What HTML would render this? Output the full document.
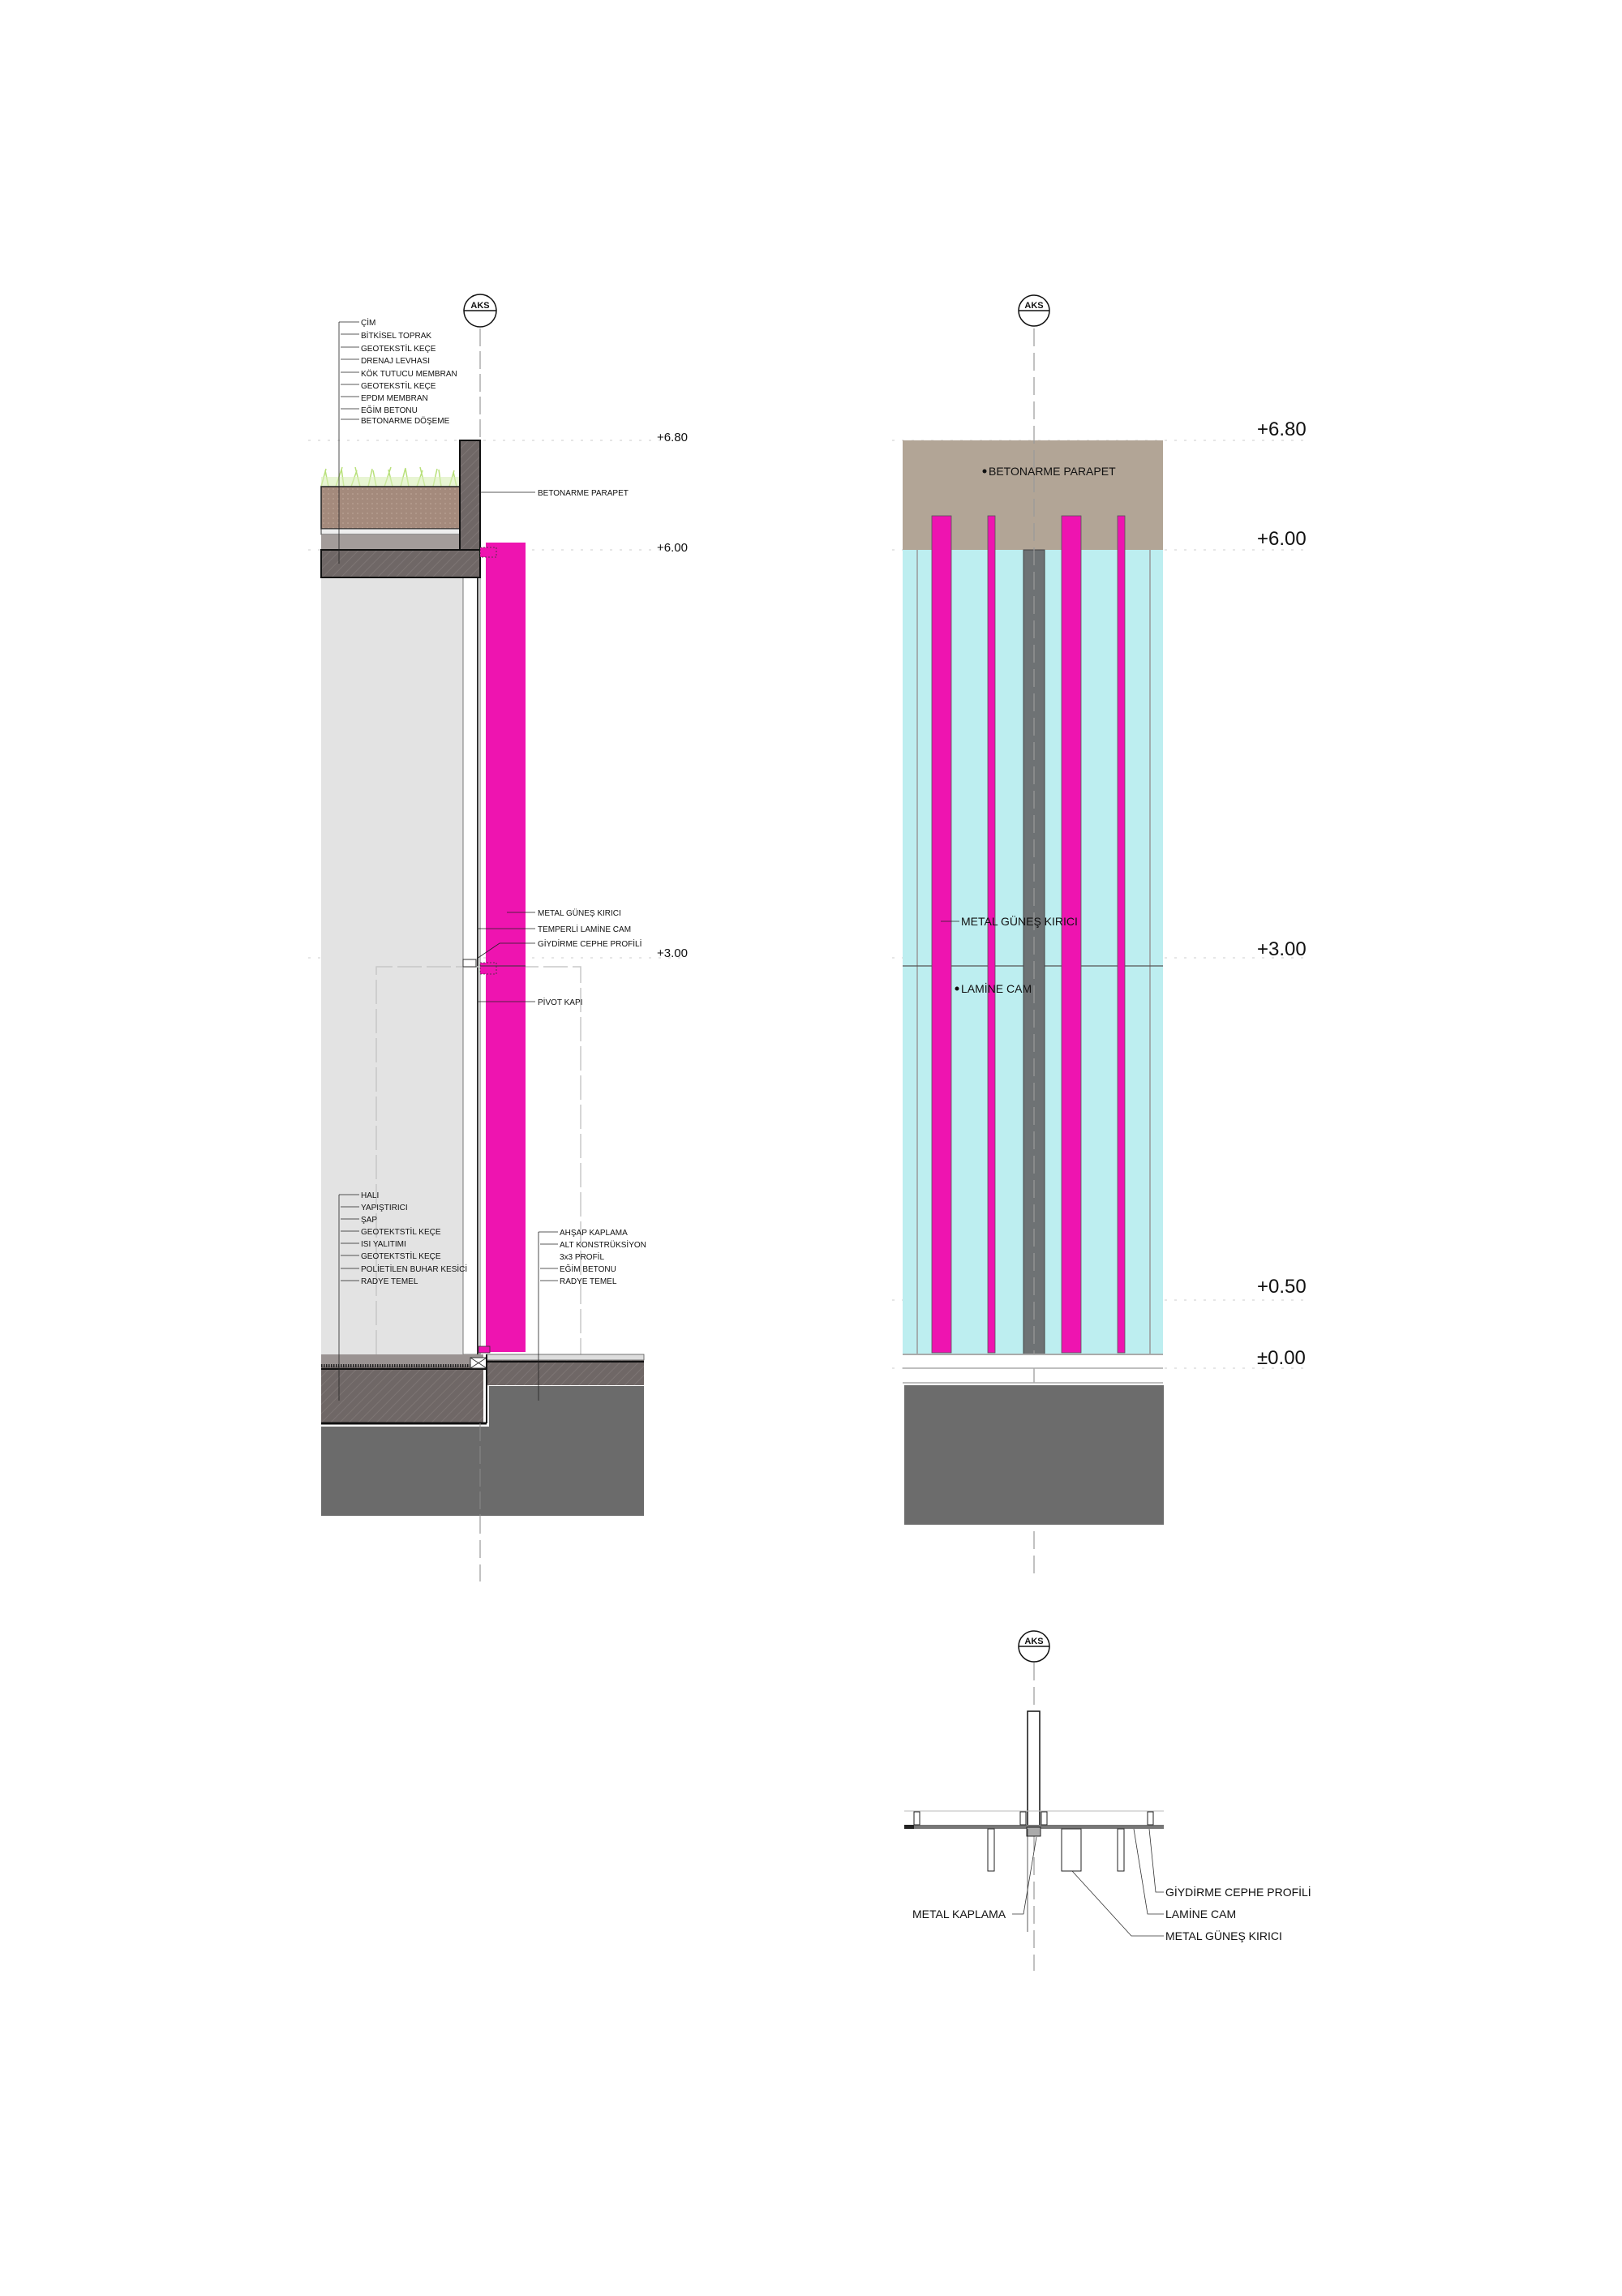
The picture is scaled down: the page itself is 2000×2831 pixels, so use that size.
<!DOCTYPE html>
<html><head><meta charset="utf-8"><style>
html,body{margin:0;padding:0;background:#fff}
svg{display:block}
text{font-family:"Liberation Sans",sans-serif;fill:#111}
.s{font-size:10px}
.l{font-size:24px}
.m{font-size:14px}
</style></head><body>
<svg width="2000" height="2831" viewBox="0 0 2000 2831" xmlns="http://www.w3.org/2000/svg">
<defs>
<pattern id="hat" width="8" height="8" patternUnits="userSpaceOnUse" patternTransform="rotate(45)">
<rect width="8" height="8" fill="#6f6766"/><line x1="0" y1="0" x2="0" y2="8" stroke="#7d7574" stroke-width="2"/></pattern>
<pattern id="soil" width="6" height="6" patternUnits="userSpaceOnUse"><rect width="6" height="6" fill="#a48a7c"/><circle cx="3" cy="3" r="1" fill="#b59c8e"/></pattern>
</defs>

<g stroke="#ccc" stroke-width="1" stroke-dasharray="3,9">
<line x1="380" y1="543" x2="845" y2="543"/><line x1="380" y1="678" x2="845" y2="678"/><line x1="380" y1="1181" x2="845" y2="1181"/>
<line x1="1100" y1="543" x2="1610" y2="543"/><line x1="1100" y1="678" x2="1610" y2="678"/><line x1="1100" y1="1181" x2="1610" y2="1181"/>
<line x1="1100" y1="1603" x2="1610" y2="1603"/><line x1="1100" y1="1687" x2="1610" y2="1687"/>
</g>
<rect x="396" y="712" width="175" height="958" fill="#e3e3e3"/>
<rect x="571" y="712" width="21" height="958" fill="#fff" stroke="#777" stroke-width="1"/>
<line x1="589" y1="712" x2="589" y2="1670" stroke="#333" stroke-width="2"/>
<path d="M464 1670 V1192 H716 V1670" fill="none" stroke="#c8c8c8" stroke-width="1.5" stroke-dasharray="30,6"/>
<g stroke="#b8e07a" stroke-width="1.5" fill="none">
<path d="M396 600 l6 -22 M405 600 l-4 -20 M414 600 l8 -24 M424 600 l-3 -22 M433 600 l7 -20 M444 600 l-6 -24 M454 600 l5 -22 M464 600 l-4 -20 M474 600 l8 -24 M484 600 l-5 -21 M494 600 l6 -23 M504 600 l-4 -22 M514 600 l7 -20 M524 600 l-6 -24 M534 600 l5 -22 M544 600 l-3 -21 M554 600 l6 -20 M563 600 l-4 -18"/>
</g>
<rect x="396" y="588" width="170" height="12" fill="#d8eeb5" opacity="0.6"/>
<rect x="396" y="600" width="171" height="52" fill="url(#soil)" stroke="#222" stroke-width="1.5"/>
<rect x="396" y="652" width="171" height="7" fill="#eee" stroke="#333" stroke-width="1"/>
<rect x="396" y="659" width="171" height="19" fill="#a39c9a"/>
<rect x="396" y="678" width="196" height="34" fill="url(#hat)" stroke="#111" stroke-width="2"/>
<rect x="567" y="543" width="25" height="135" fill="url(#hat)" stroke="#111" stroke-width="2"/>
<rect x="599" y="669" width="49" height="998" fill="#ee14b0"/>
<rect x="592" y="675" width="20" height="12" fill="#ee14b0" stroke="#333" stroke-width="0.8" stroke-dasharray="2,2"/>
<rect x="592" y="1187" width="20" height="14" fill="#ee14b0" stroke="#333" stroke-width="0.8" stroke-dasharray="2,2"/>
<line x1="592" y1="1191" x2="648" y2="1191" stroke="#333" stroke-width="1"/>
<rect x="571" y="1183" width="16" height="9" fill="#fff" stroke="#333"/>
<rect x="590" y="1660" width="14" height="8" fill="#ee14b0" stroke="#333" stroke-width="0.8"/>
<rect x="396" y="1670" width="200" height="85" fill="url(#hat)"/>
<rect x="396" y="1670" width="200" height="15" fill="#9a9392"/>
<line x1="396" y1="1684" x2="600" y2="1684" stroke="#222" stroke-width="4" stroke-dasharray="1.5,1.5"/>
<line x1="396" y1="1688" x2="600" y2="1688" stroke="#111" stroke-width="2"/>
<line x1="396" y1="1755" x2="600" y2="1755" stroke="#111" stroke-width="3"/>
<rect x="580" y="1674" width="20" height="13" fill="#fff" stroke="#333"/>
<path d="M580 1674 L600 1687 M600 1674 L580 1687" stroke="#333"/>
<rect x="600" y="1670" width="194" height="38" fill="url(#hat)"/>
<rect x="600" y="1670" width="194" height="7" fill="#ddd" stroke="#555" stroke-width="0.8"/>
<line x1="600" y1="1679" x2="794" y2="1679" stroke="#111" stroke-width="2"/>
<line x1="600" y1="1670" x2="600" y2="1755" stroke="#111" stroke-width="2"/>
<rect x="396" y="1759" width="398" height="110" fill="#6b6b6b"/>
<rect x="603" y="1709" width="191" height="60" fill="#6b6b6b"/>
<line x1="592" y1="405" x2="592" y2="540" stroke="#999" stroke-width="1.2" stroke-dasharray="22,6"/>
<line x1="592" y1="1869" x2="592" y2="1950" stroke="#999" stroke-width="1.2" stroke-dasharray="22,8"/>
<line x1="592" y1="1755" x2="592" y2="1869" stroke="#888" stroke-width="1" stroke-dasharray="22,6"/>
<circle cx="592" cy="383" r="20" fill="#fff" stroke="#111" stroke-width="1.5"/>
<line x1="572" y1="383" x2="612" y2="383" stroke="#111" stroke-width="1.5"/>
<text x="592" y="380" font-size="11" font-weight="bold" text-anchor="middle">AKS</text>
<g stroke="#222" stroke-width="0.8" fill="none">
<path d="M418 397 H443 M418 397 V695"/>
<line x1="420" y1="412" x2="443" y2="412"/><line x1="420" y1="428" x2="443" y2="428"/><line x1="420" y1="443" x2="443" y2="443"/>
<line x1="420" y1="459" x2="443" y2="459"/><line x1="420" y1="474" x2="443" y2="474"/><line x1="420" y1="489" x2="443" y2="489"/>
<line x1="420" y1="504" x2="443" y2="504"/><line x1="420" y1="517" x2="443" y2="517"/>
<line x1="592" y1="607" x2="660" y2="607"/>
</g>
<g class="s">
<text x="445" y="401">ÇİM</text><text x="445" y="417">BİTKİSEL TOPRAK</text><text x="445" y="433">GEOTEKSTİL KEÇE</text>
<text x="445" y="448">DRENAJ LEVHASI</text><text x="445" y="464">KÖK TUTUCU MEMBRAN</text><text x="445" y="479">GEOTEKSTİL KEÇE</text>
<text x="445" y="494">EPDM MEMBRAN</text><text x="445" y="509">EĞİM BETONU</text><text x="445" y="522">BETONARME DÖŞEME</text>
<text x="663" y="611">BETONARME PARAPET</text>
</g>
<g stroke="#222" stroke-width="0.8" fill="none">
<line x1="625" y1="1125" x2="660" y2="1125"/><line x1="590" y1="1145" x2="660" y2="1145"/>
<path d="M588 1182 L616 1163 H660"/><line x1="590" y1="1235" x2="660" y2="1235"/>
</g>
<g class="s">
<text x="663" y="1129">METAL GÜNEŞ KIRICI</text><text x="663" y="1149">TEMPERLİ LAMİNE CAM</text>
<text x="663" y="1167">GİYDİRME CEPHE PROFİLİ</text><text x="663" y="1239">PİVOT KAPI</text>
</g>
<text x="810" y="544" style="font-size:15px">+6.80</text>
<text x="810" y="680" style="font-size:15px">+6.00</text>
<text x="810" y="1180" style="font-size:15px">+3.00</text>
<g stroke="#222" stroke-width="0.8" fill="none">
<path d="M418 1473 H443 M418 1473 V1727"/>
<line x1="420" y1="1488" x2="443" y2="1488"/><line x1="420" y1="1503" x2="443" y2="1503"/><line x1="420" y1="1518" x2="443" y2="1518"/>
<line x1="420" y1="1533" x2="443" y2="1533"/><line x1="420" y1="1548" x2="443" y2="1548"/><line x1="420" y1="1564" x2="443" y2="1564"/>
<line x1="420" y1="1579" x2="443" y2="1579"/>
<path d="M664 1519 H688 M664 1519 V1727"/>
<line x1="666" y1="1534" x2="688" y2="1534"/><line x1="666" y1="1564" x2="688" y2="1564"/><line x1="666" y1="1579" x2="688" y2="1579"/>
</g>
<g class="s">
<text x="445" y="1477">HALI</text><text x="445" y="1492">YAPIŞTIRICI</text><text x="445" y="1507">ŞAP</text>
<text x="445" y="1522">GEOTEKTSTİL KEÇE</text><text x="445" y="1537">ISI YALITIMI</text><text x="445" y="1552">GEOTEKTSTİL KEÇE</text>
<text x="445" y="1568">POLİETİLEN BUHAR KESİCİ</text><text x="445" y="1583">RADYE TEMEL</text>
<text x="690" y="1523">AHŞAP KAPLAMA</text><text x="690" y="1538">ALT KONSTRÜKSİYON</text><text x="690" y="1553">3x3 PROFİL</text>
<text x="690" y="1568">EĞİM BETONU</text><text x="690" y="1583">RADYE TEMEL</text>
</g>

<rect x="1113" y="543" width="321" height="135" fill="#b2a596"/>
<rect x="1113" y="678" width="321" height="992" fill="#bdeef0"/>
<line x1="1131" y1="678" x2="1131" y2="1670" stroke="#999" stroke-width="1.5"/>
<line x1="1418" y1="678" x2="1418" y2="1670" stroke="#999" stroke-width="1.5"/>
<line x1="1113" y1="1191" x2="1434" y2="1191" stroke="#555" stroke-width="1.2"/>
<rect x="1262" y="678" width="26" height="992" fill="#6e7274" stroke="#444" stroke-width="1"/>
<g fill="#ee14b0" stroke="#555" stroke-width="0.8">
<rect x="1149" y="636" width="24" height="1032"/><rect x="1218" y="636" width="9" height="1032"/>
<rect x="1309" y="636" width="24" height="1032"/><rect x="1378" y="636" width="9" height="1032"/>
</g>
<line x1="1113" y1="1670" x2="1434" y2="1670" stroke="#aaa" stroke-width="2"/>
<line x1="1113" y1="1687" x2="1434" y2="1687" stroke="#aaa" stroke-width="1.5"/>
<line x1="1113" y1="1705" x2="1434" y2="1705" stroke="#aaa" stroke-width="1.5"/>
<line x1="1275" y1="1687" x2="1275" y2="1705" stroke="#aaa" stroke-width="1.5"/>
<rect x="1115" y="1708" width="320" height="172" fill="#6c6c6c"/>
<line x1="1275" y1="405" x2="1275" y2="1670" stroke="#999" stroke-width="1.2" stroke-dasharray="22,8"/>
<line x1="1275" y1="1888" x2="1275" y2="1945" stroke="#999" stroke-width="1.2" stroke-dasharray="22,8"/>
<circle cx="1275" cy="383" r="19" fill="#fff" stroke="#111" stroke-width="1.5"/>
<line x1="1256" y1="383" x2="1294" y2="383" stroke="#111" stroke-width="1.5"/>
<text x="1275" y="380" font-size="11" font-weight="bold" text-anchor="middle">AKS</text>
<circle cx="1214" cy="581" r="2.5" fill="#111"/>
<text class="m" x="1219" y="586">BETONARME PARAPET</text>
<line x1="1160" y1="1136" x2="1183" y2="1136" stroke="#222" stroke-width="0.8"/>
<text class="m" x="1185" y="1141">METAL GÜNEŞ KIRICI</text>
<circle cx="1180" cy="1219" r="2.5" fill="#111"/>
<text class="m" x="1185" y="1224">LAMİNE CAM</text>
<text class="l" x="1550" y="537">+6.80</text>
<text class="l" x="1550" y="672">+6.00</text>
<text class="l" x="1550" y="1178">+3.00</text>
<text class="l" x="1550" y="1594">+0.50</text>
<text class="l" x="1550" y="1682">±0.00</text>

<line x1="1275" y1="2050" x2="1275" y2="2430" stroke="#999" stroke-width="1.2" stroke-dasharray="22,8"/>
<circle cx="1275" cy="2030" r="19" fill="#fff" stroke="#111" stroke-width="1.5"/>
<line x1="1256" y1="2030" x2="1294" y2="2030" stroke="#111" stroke-width="1.5"/>
<text x="1275" y="2027" font-size="11" font-weight="bold" text-anchor="middle">AKS</text>
<rect x="1267" y="2110" width="15" height="143" fill="#fff" stroke="#111" stroke-width="1.5"/>
<line x1="1115" y1="2233" x2="1435" y2="2233" stroke="#bbb" stroke-width="1"/>
<rect x="1115" y="2250" width="320" height="5" fill="#777"/>
<rect x="1115" y="2250" width="12" height="5" fill="#222"/>
<g fill="#fff" stroke="#222" stroke-width="1">
<rect x="1127" y="2234" width="7" height="16"/><rect x="1258" y="2234" width="7" height="16"/>
<rect x="1284" y="2234" width="7" height="16"/><rect x="1415" y="2234" width="7" height="16"/>
<rect x="1218" y="2255" width="8" height="52"/><rect x="1309" y="2255" width="24" height="52"/>
<rect x="1378" y="2255" width="8" height="52"/>
</g>
<rect x="1266" y="2253" width="17" height="11" fill="#aaa" stroke="#222"/>
<g stroke="#333" stroke-width="0.8" fill="none">
<path d="M1248 2360 H1262 L1278 2265"/>
<path d="M1322 2307 L1395 2387 H1435"/>
<path d="M1398 2255 L1415 2360 H1435"/>
<path d="M1417 2255 L1425 2333 H1435"/>
<line x1="1267" y1="2255" x2="1267" y2="2382"/>
</g>
<text class="m" x="1437" y="2338">GİYDİRME CEPHE PROFİLİ</text>
<text class="m" x="1437" y="2365">LAMİNE CAM</text>
<text class="m" x="1437" y="2392">METAL GÜNEŞ KIRICI</text>
<text class="m" x="1125" y="2365">METAL KAPLAMA</text>
</svg>
</body></html>
